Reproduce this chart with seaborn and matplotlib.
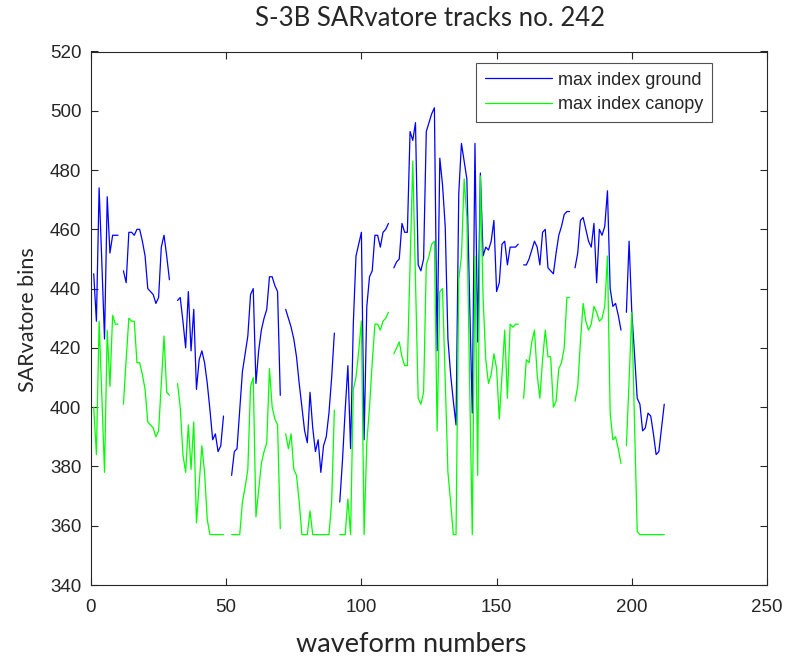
import numpy as np
import pandas as pd
import seaborn as sns
import matplotlib.pyplot as plt
from matplotlib.lines import Line2D

nan = np.nan

# waveform index along the track
waveform = np.arange(1, 213)

# retracked bin of the waveform maximum: ground return
ground = [
    445, 429, 474, 449, 423, 471, 452, 458, 458, 458,
    nan, 446, 442, 459, 459, 458, 460, 460, 456, 451,
    440, 439, 438, 435, 437, 454, 458, 451, 443, nan,
    nan, 436, 437, 429, 420, 439, 419, 433, 406, 416,
    419, 415, 408, 399, 389, 391, 385, 387, 397, nan,
    nan, 377, 385, 386, 399, 412, 418, 424, 438, 440,
    408, 419, 426, 430, 433, 444, 444, 441, 439, 404,
    nan, 433, 430, 427, 423, 417, 408, 400, 392, 388,
    405, 393, 385, 389, 378, 387, 390, 398, 410, 425,
    nan, 368, 382, 399, 414, 386, 428, 451, 455, 459,
    389, 434, 444, 446, 458, 458, 454, 459, 460, 462,
    nan, 447, 449, 450, 462, 459, 459, 493, 490, 496,
    448, 446, 450, 493, 496, 499, 501, 419, 484, 475,
    461, 423, 411, 402, 394, 472, 489, 483, 477, 437,
    398, 489, 422, 479, 451, 454, 453, 456, 463, 439,
    442, 455, 456, 448, 454, 454, 454, 455, nan, 448,
    448, 450, 453, 456, 454, 448, 459, 460, 447, 446,
    445, 452, 458, 461, 465, 466, 466, nan, 447, 452,
    463, 464, 460, 456, 454, 462, 442, 460, 458, 461,
    473, 440, 434, 435, 431, 426, nan, 432, 456, 432,
    418, 403, 401, 392, 393, 398, 397, 391, 384, 385,
    393, 401,
]

# retracked bin of the waveform maximum: canopy return
canopy = [
    400, 384, 429, 404, 378, 426, 407, 431, 428, 428,
    nan, 401, 416, 430, 429, 429, 415, 415, 411, 406,
    395, 394, 393, 390, 392, 408, 424, 405, 404, nan,
    nan, 408, 400, 384, 378, 394, 379, 395, 361, 374,
    387, 378, 362, 357, 357, 357, 357, 357, 357, nan,
    nan, 357, 357, 357, 357, 368, 373, 379, 407, 410,
    363, 372, 381, 385, 388, 413, 400, 396, 394, 359,
    nan, 391, 386, 391, 379, 377, 368, 357, 357, 357,
    365, 357, 357, 357, 357, 357, 357, 357, 368, 399,
    nan, 357, 357, 357, 369, 357, 406, 410, 419, 429,
    357, 388, 400, 415, 428, 428, 426, 429, 430, 432,
    nan, 418, 420, 422, 417, 414, 414, 448, 483, 443,
    403, 401, 405, 448, 451, 455, 456, 392, 439, 440,
    409, 378, 368, 357, 357, 443, 451, 477, 464, 410,
    357, 451, 377, 478, 437, 416, 408, 411, 418, 413,
    396, 411, 426, 403, 428, 427, 428, 428, nan, 403,
    416, 415, 422, 426, 411, 403, 416, 426, 417, 417,
    400, 402, 413, 415, 420, 437, 437, nan, 402, 407,
    422, 435, 429, 426, 428, 434, 432, 429, 430, 434,
    451, 398, 389, 390, 386, 381, nan, 387, 409, 432,
    395, 358, 357, 357, 357, 357, 357, 357, 357, 357,
    357, 357,
]

x_ticks = [0, 50, 100, 150, 200, 250]
y_ticks = list(range(340, 521, 20))

sns.set_theme(style="ticks")
plt.rcParams['font.family'] = ['Liberation Sans', 'DejaVu Sans']

fig = plt.figure(figsize=(7.9, 6.59), dpi=100)
ax = fig.add_axes([91 / 790, 1 - 585 / 659, 676 / 790, 533.5 / 659])


def track_frame(values):
    """Long table with a segment id so missing waveforms leave gaps."""
    df = pd.DataFrame({"waveform": waveform, "bins": values})
    df["segment"] = df["bins"].isna().cumsum()
    return df.dropna()


series = [("max index ground", ground, "#0000ff"),
          ("max index canopy", canopy, "#00ff00")]

for label, values, colour in series:
    sns.lineplot(data=track_frame(values), x="waveform", y="bins",
                 units="segment", estimator=None, sort=False,
                 color=colour, linewidth=0.9, ax=ax)

ax.set_xlim(0, 250)
ax.set_ylim(340, 520)
ax.set_xticks(x_ticks)
ax.set_yticks(y_ticks)
ax.set_xlabel("")
ax.set_ylabel("")

axis_grey = "#262626"
for side in ["left", "right", "top", "bottom"]:
    ax.spines[side].set_visible(True)
    ax.spines[side].set_color(axis_grey)
    ax.spines[side].set_linewidth(0.8)
ax.tick_params(direction="in", top=True, right=True, length=5, width=0.8,
               color=axis_grey, labelcolor=axis_grey, labelsize=13.5)
ax.tick_params(axis="x", pad=10)
ax.tick_params(axis="y", pad=7)

handles = [Line2D([], [], color=c, linewidth=0.9) for _, _, c in series]
leg = ax.legend(handles, [s[0] for s in series], loc="upper right",
                bbox_to_anchor=(0.919, 0.979), borderaxespad=0,
                fontsize=13, handlelength=3.7, handletextpad=0.35,
                fancybox=False, frameon=True, borderpad=0.5,
                labelspacing=0.4)
leg.get_frame().set_edgecolor(axis_grey)
leg.get_frame().set_linewidth(0.8)

fig.text(430 / 790, 1 - 19 / 659, "S-3B SARvatore tracks no. 242",
         ha="center", va="center", fontsize=18.5, family=["Lato", "DejaVu Sans"])
fig.text(28 / 790, 1 - 320 / 659, "SARvatore bins", rotation=90,
         ha="center", va="center", fontsize=15.5, family=["Lato", "DejaVu Sans"])
fig.text(411 / 790, 1 - 645 / 659, "waveform numbers",
         ha="center", va="center", fontsize=19.5, family=["Lato", "DejaVu Sans"])

fig.savefig("out.png", dpi=100)
